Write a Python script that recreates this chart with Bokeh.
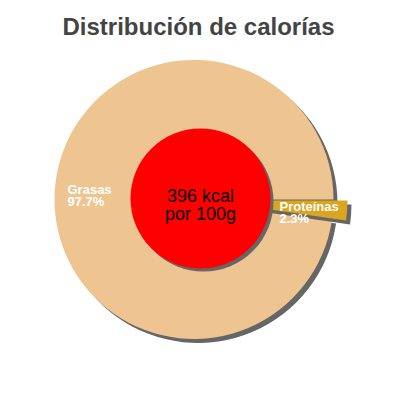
import numpy as np
from bokeh.plotting import figure
from bokeh.models import Range1d
from bokeh.core.properties import value
from bokeh.embed import file_html
from bokeh.resources import INLINE

# ---- data ----
title = "Distribución de calorías"
categories = ["Grasas", "Proteínas"]
percentages = [97.7, 2.3]
colors = ["#EEC591", "#DAA520"]
explode_px = [0, 14]
center_lines = ["396 kcal", "por 100g"]

# ---- layout helpers (screen y -> data y) ----
H = 384
def Y(y):
    return H - y

FONT = value("Liberation Sans")

p = figure(width=384, height=384, x_range=Range1d(0, 384), y_range=Range1d(0, 384),
           output_backend="svg", toolbar_location=None,
           x_axis_type=None, y_axis_type=None, min_border=0)
p.grid.visible = False
p.outline_line_color = None
p.background_fill_color = "white"
p.border_fill_color = "white"

cx, cy, R = 193.5, Y(199), 139.5
sdx, sdy = 4, -4
shadow_col = "#666666"

fr = np.array(percentages) / 100.0
ends = np.cumsum(fr) * 2 * np.pi
starts = ends - fr * 2 * np.pi

for i, cat in enumerate(categories):
    mid = (starts[i] + ends[i]) / 2
    ox = cx + explode_px[i] * np.cos(mid)
    oy = cy + explode_px[i] * np.sin(mid)
    p.wedge(x=[ox + sdx], y=[oy + sdy], radius=R, start_angle=[starts[i]], end_angle=[ends[i]],
            fill_color=shadow_col, line_color=None)
    p.wedge(x=[ox], y=[oy], radius=R, start_angle=[starts[i]], end_angle=[ends[i]],
            fill_color=colors[i], line_color=None)

# center disc
rcx, rcy, rr = 200, Y(198), 70
p.circle(x=[rcx + 3], y=[rcy - 3], radius=rr, fill_color=shadow_col, line_color=None)
p.circle(x=[rcx], y=[rcy], radius=rr, fill_color="#FF0000", line_color=None)

p.text(x=[200, 200], y=[Y(195), Y(213)], text=center_lines, text_align="center",
       text_baseline="alphabetic", text_font=FONT, text_font_size="18px", text_color="black")

# slice labels
label_pos = {"Grasas": (67, 189), "Proteínas": (279, 206)}
for cat, pct in zip(categories, percentages):
    lx, ly = label_pos[cat]
    p.text(x=[lx, lx], y=[Y(ly), Y(ly + 11.5)], text=[cat, f"{pct}%"], text_align="left",
           text_baseline="alphabetic", text_font=FONT, text_font_size="13px",
           text_font_style="bold", text_color="white")

p.text(x=[198], y=[Y(26)], text=[title], text_align="center", text_baseline="alphabetic",
       text_font=FONT, text_font_size="24px", text_font_style="bold", text_color="#444444")

open("out.html", "w").write(file_html(p, INLINE))
